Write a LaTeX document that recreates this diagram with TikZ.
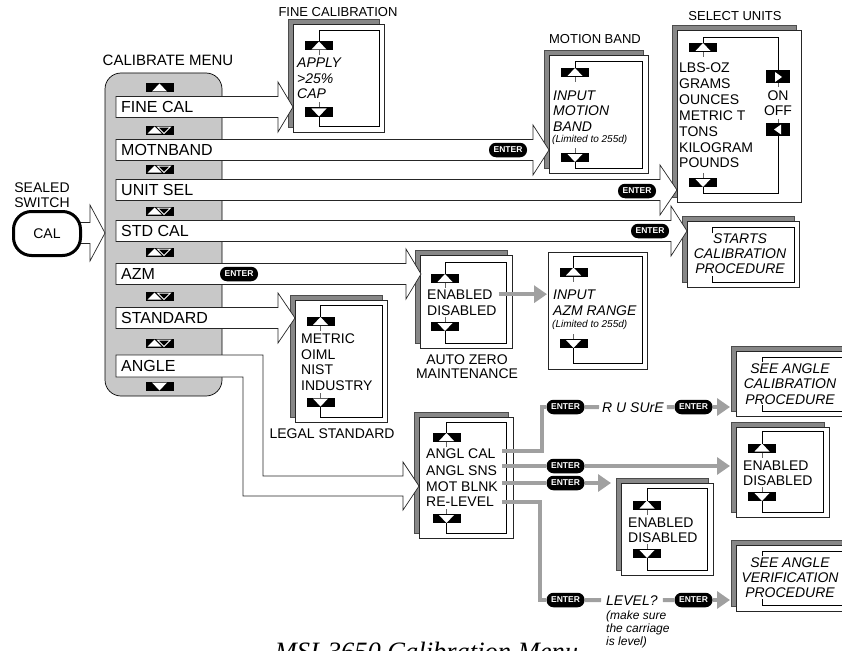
\documentclass[tikz,border=0pt]{standalone}
\usepackage{fontspec}
\setmainfont{Liberation Sans}
\newfontfamily\capserif{Liberation Serif}
\usetikzlibrary{arrows.meta,shadows}
\definecolor{menugray}{RGB}{200,200,200}
\definecolor{shadegray}{RGB}{135,135,135}
\definecolor{linegray}{RGB}{160,160,160}
\newcommand\fsz[1]{\fontsize{#1}{#1}\selectfont}
\newcommand\menuarrow[3]{\draw[strip] (116,#1-10.5) -- (#2,#1-10.5) -- (#2,#1-25) -- (#3,#1) -- (#2,#1+25) -- (#2,#1+10.5) -- (116,#1+10.5) -- cycle;}
\newcommand\scrollloop[6]{%
  \pic at (#1,#2) {upbtn}; \pic at (#1,#3) {dnbtn};
  \draw[loopln] (#1,#2-4.5) |- (#5,#4) |- (#1,#6) -- (#1,#3+4.5);
  \draw[tickln] (#1,#2+4.5) -- ++(0,5) (#1,#3-4.5) -- ++(0,-5);}
\tikzset{
  strip/.style={draw=black!85, fill=white, line width=0.7pt},
  card/.style={draw=black!85, fill=white, line width=0.7pt, inner sep=0, anchor=north west,
    copy shadow={shadow xshift=-5pt, shadow yshift=5pt, fill=shadegray, draw=black!70}},
  plaincard/.style={draw=black!85, fill=white, line width=0.7pt, inner sep=0, anchor=north west},
  loopln/.style={line width=0.6pt},
  tickln/.style={line width=0.4pt, black!60},
  item/.style={anchor=base west, inner sep=0, font=\fsz{16}},
  txt/.style={anchor=base west, inner sep=0, font=\fsz{14}},
  itxt/.style={txt, font=\fsz{14}\itshape},
  ctxt/.style={anchor=base, inner sep=0, font=\fsz{14}\itshape},
  smallnote/.style={anchor=base west, inner sep=0, font=\fsz{10}\itshape},
  heading/.style={anchor=base, inner sep=0, font=\fsz{13}},
  capt/.style={anchor=base, inner sep=0, font=\fsz{14}},
  enter/.style={fill=black, text=white, rounded corners=7pt, minimum width=38pt, minimum height=14.5pt, inner sep=0, font=\fsz{8.5}\bfseries},
  gline/.style={draw=linegray, line width=4pt},
  garrow/.style={gline, -{Triangle[length=13pt,width=17pt]}},
  upbtn/.pic={\fill (-14,-4.5) rectangle (14,4.5); \fill[white] (-7.5,3.5) -- (0,-4.5) -- (7.5,3.5) -- cycle;},
  dnbtn/.pic={\fill (-14,-4.5) rectangle (14,4.5); \fill[white] (-7.5,-3.5) -- (0,4.5) -- (7.5,-3.5) -- cycle;},
  updnbtn/.pic={\fill (-14,-4.5) rectangle (14,4.5); \fill[white] (-12,3.5) -- (-5,-3.5) -- (2,3.5) -- cycle;
    \draw[white, line width=1pt] (-2,-3) -- (11,-3) -- (4.5,3.5) -- cycle;},
  rtbtn/.pic={\fill (-12,-6.5) rectangle (12,6.5); \fill[white] (-3,-5) -- (4,0) -- (-3,5) -- cycle;},
  ltbtn/.pic={\fill (-12,-6.5) rectangle (12,6.5); \fill[white] (3,-5) -- (-4,0) -- (3,5) -- cycle;},
}
\begin{document}
\begin{tikzpicture}[x=1pt, y=-1pt]
  \useasboundingbox (0,0) rectangle (842,650);
  \clip (0,0) rectangle (842,650);

  \draw[fill=menugray, line width=0.7pt, rounded corners=16pt] (105,73) rectangle (222,396);
  \node[heading, font=\fsz{15}] (menutitle) at (168,65.4) {CALIBRATE MENU};
  \pic at (159.5,88) {upbtn};
  \foreach \y in {130,169,211,252,296,343} \pic at (159.5,\y) {updnbtn};
  \pic at (159.5,386) {dnbtn};

  \node[card, minimum width=91, minimum height=108] (fine) at (293,24) {};
  \node[heading] (finetitle) at (338,16.6) {FINE CALIBRATION};
  \scrollloop{319}{46}{112}{30}{379}{126}
  \node[itxt] (apply) at (297,68) {APPLY};
  \node[itxt] (pct) at (297,84) {>25\%};
  \node[itxt] (cap) at (297,99) {CAP};

  \node[card, minimum width=99, minimum height=118] (motion) at (549,55) {};
  \node[heading] (motiontitle) at (595,43.6) {MOTION BAND};
  \scrollloop{575}{72.5}{157.5}{61}{642}{168}
  \node[itxt] (mbin) at (553,100) {INPUT};
  \node[itxt] (mbmo) at (553,116) {MOTION};
  \node[itxt] (mbba) at (553,131) {BAND};
  \node[smallnote] (mblim) at (552,142.5) {(Limited to 255d)};

  \node[card, minimum width=124, minimum height=172] (units) at (677,30) {};
  \node[heading] (unitstitle) at (735,20.6) {SELECT UNITS};
  \pic at (703,47.5) {upbtn};
  \pic at (703,182.5) {dnbtn};
  \pic at (778,77) {rtbtn};
  \pic at (778,129.5) {ltbtn};
  \draw[loopln] (703,43) |- (778,37) -- (778,70.5) (778,136) |- (703,193) -- (703,187);
  \draw[tickln] (703,52) -- ++(0,5) (703,178) -- ++(0,-5) (778,83.5) -- ++(0,4) (778,123) -- ++(0,-4);
  \foreach \u [count=\i] in {LBS-OZ,GRAMS,OUNCES,METRIC T,TONS,KILOGRAM,POUNDS}
    \node[txt] (unit\i) at (679,73+15.8*\i-15.8) {\u};
  \node[capt] (on) at (778,100) {ON};
  \node[capt] (off) at (778,115) {OFF};

  \node[card, minimum width=112, minimum height=66] (starts) at (687,221) {};
  \draw[loopln] (712,233) |- (794,227) |- (712,282) -- (712,276);
  \node[ctxt] at (740,243) {STARTS};
  \node[ctxt] at (740,258) {CALIBRATION};
  \node[ctxt] at (740,273) {PROCEDURE};

  \node[card, minimum width=92, minimum height=93] (azero) at (420,255) {};
  \scrollloop{445}{278.5}{326.5}{262}{506}{343}
  \node[txt] (azen) at (427,299) {ENABLED};
  \node[txt] (azdis) at (427,315) {DISABLED};
  \node[capt] at (467,364) {AUTO ZERO};
  \node[capt] at (467,378) {MAINTENANCE};

  \node[plaincard, minimum width=99, minimum height=117] (azmrange) at (548,252) {};
  \scrollloop{573.5}{272}{343.5}{256}{642}{363}
  \node[itxt] (arin) at (553,299) {INPUT};
  \node[itxt] (arrng) at (553,315) {AZM RANGE};
  \node[smallnote] (arlim) at (552,327.5) {(Limited to 255d)};
  \draw[garrow, shorten <=6pt, shorten >=1pt] (azen.east) -- (azen.east -| azmrange.west);

  \node[card, minimum width=92, minimum height=122] (legal) at (295,300) {};
  \scrollloop{320.5}{321.5}{402}{305}{382}{417}
  \node[txt] (metric) at (301,343) {METRIC};
  \node[txt] (oiml) at (301,359) {OIML};
  \node[txt] (nist) at (301,374) {NIST};
  \node[txt] (industry) at (301,390) {INDUSTRY};
  \node[capt] at (332,438) {LEGAL STANDARD};

  \node[card, minimum width=94, minimum height=121] (anglemenu) at (419,417) {};
  \scrollloop{446.5}{437.5}{518.5}{422}{506}{533}
  \node[txt] (anglcal) at (426,458) {ANGL CAL};
  \node[txt] (anglsns) at (426,475) {ANGL SNS};
  \node[txt] (motblnk) at (426,491) {MOT BLNK};
  \node[txt] (relevel) at (426,506) {RE-LEVEL};

  \node[card, minimum width=130, minimum height=65] (seecal) at (736,351) {};
  \draw[loopln] (762,362) -- (762,357) -- (870,357) (870,411) -- (762,411) -- (762,405);
  \node[ctxt] at (790,373) {SEE ANGLE};
  \node[ctxt] at (790,388) {CALIBRATION};
  \node[ctxt] at (790,404) {PROCEDURE};

  \node[card, minimum width=93, minimum height=90] (sns) at (736,427) {};
  \scrollloop{762}{448}{496.5}{431}{823}{512}
  \node[txt] (snsen) at (743,470) {ENABLED};
  \node[txt] (snsdis) at (743,485) {DISABLED};

  \node[card, minimum width=92, minimum height=92] (blnk) at (621,483) {};
  \scrollloop{647}{505}{553.5}{488}{707}{570}
  \node[txt] (blen) at (628,527) {ENABLED};
  \node[txt] (bldis) at (628,542) {DISABLED};

  \node[card, minimum width=130, minimum height=66] (seever) at (736,545) {};
  \draw[loopln] (762,556) -- (762,551) -- (870,551) (870,605) -- (762,605) -- (762,599);
  \node[ctxt] at (790,567) {SEE ANGLE};
  \node[ctxt] at (790,582) {VERIFICATION};
  \node[ctxt] at (790,597) {PROCEDURE};

  \menuarrow{107}{278}{293}
  \node[item] (finecal) at (121,112.7) {FINE CAL};
  \menuarrow{150}{533}{549}
  \node[item] (motnband) at (121,155.7) {MOTNBAND};
  \node[enter] (entmb) at (508,150) {ENTER};
  \menuarrow{190}{660}{677}
  \node[item] (unitsel) at (121,195.7) {UNIT SEL};
  \node[enter] (entus) at (637,191) {ENTER};
  \menuarrow{231}{671}{687}
  \node[item] (stdcal) at (121,236.7) {STD CAL};
  \node[enter] (entsc) at (650,231) {ENTER};
  \menuarrow{274}{406}{421}
  \node[item] (azm) at (121,279.7) {AZM};
  \node[enter] (entaz) at (239,274) {ENTER};
  \menuarrow{318}{278}{295}
  \node[item] (standard) at (121,323.7) {STANDARD};
  \draw[strip] (116,355) -- (263,355) -- (263,476) -- (403,476) -- (403,462) -- (419,486)
    -- (403,510) -- (403,496) -- (243,496) -- (243,377) -- (116,377) -- cycle;
  \node[item] (angle) at (121,371.7) {ANGLE};

  \coordinate (acal) at (502,451);
  \coordinate (asns) at (502,466);
  \coordinate (ablnk) at (502,483);
  \coordinate (arelev) at (502,502);
  \node[enter] (e1) at (565.5,407) {ENTER};
  \node[itxt, inner xsep=3pt] (rusure) at (599,412) {R U SUrE};
  \node[enter] (e2) at (693.5,407) {ENTER};
  \node[enter] (e3) at (565.5,466) {ENTER};
  \node[enter] (e4) at (565.5,483) {ENTER};
  \node[enter] (e5) at (565.5,600) {ENTER};
  \node[itxt, inner xsep=5pt] (level) at (601,605) {LEVEL?};
  \node[enter] (e6) at (693.5,600) {ENTER};
  \draw[gline] (acal) -- ++(40,0) |- (e1.west);
  \draw[gline] (e1.east) -- (rusure.west) (rusure.east) -- (e2.west);
  \draw[garrow, shorten >=6pt] (e2.east) -- (e2.east -| seecal.west);
  \draw[gline] (asns) -- (e3.west);
  \draw[garrow, shorten >=6pt] (e3.east) -- (e3.east -| sns.west);
  \draw[gline] (ablnk) -- (e4.west);
  \draw[garrow, shorten >=10pt] (e4.east) -- (e4.east -| blnk.west);
  \draw[gline] (arelev) -- ++(38,0) |- (e5.west);
  \draw[gline] (e5.east) -- (level.west) (level.east) -- (e6.west);
  \draw[garrow, shorten >=6pt] (e6.east) -- (e6.east -| seever.west);
  \node[smallnote, font=\fsz{12}\itshape] (note1) at (606,619.3) {(make sure};
  \node[smallnote, font=\fsz{12}\itshape] (note2) at (606,632.3) {the carriage};
  \node[smallnote, font=\fsz{12}\itshape] (note3) at (606,645.3) {is level)};

  \node[capt] (sealed) at (42,192) {SEALED};
  \node[capt] (switch) at (42,207) {SWITCH};
  \draw[strip] (76,222.5) -- (90,222.5) -- (90,205) -- (105,233) -- (90,261) -- (90,243.5) -- (76,243.5) -- cycle;
  \node[draw, line width=3pt, fill=white, rounded corners=18pt, minimum width=67pt, minimum height=44pt, font=\fsz{14}] (cal) at (47,233.5) {CAL};

  \node[anchor=base, inner sep=0, font=\capserif\itshape\fsz{26.5}] (figcap) at (426.5,660) {MSI-3650 Calibration Menu};
\end{tikzpicture}
\end{document}
